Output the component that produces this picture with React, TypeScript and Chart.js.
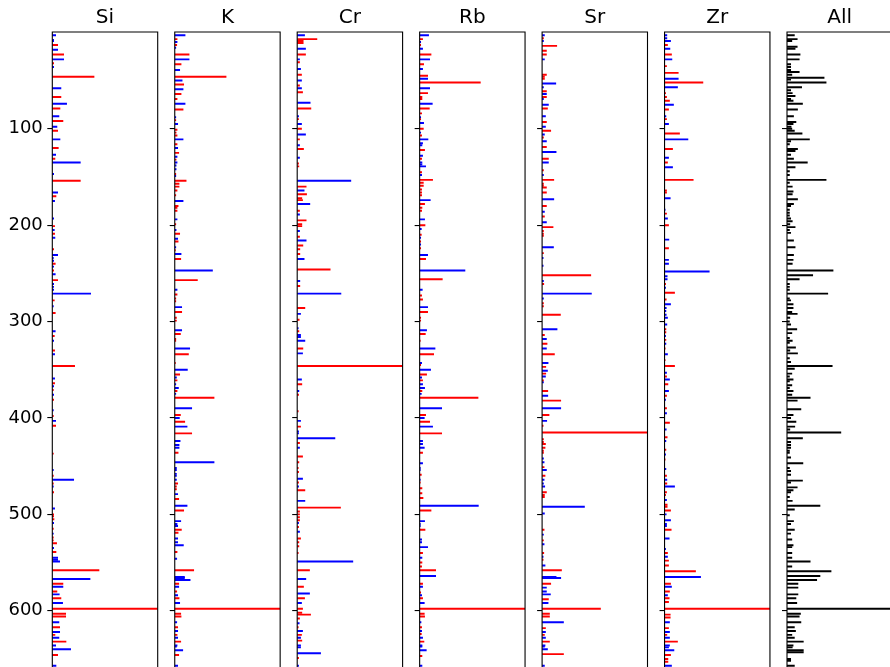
import React, { useEffect, useRef } from 'react';
import { Chart, registerables } from 'chart.js';

Chart.register(...registerables);

// Each bar: [sample index, relative intensity in % of the element's maximum]
type Bar = [number, number];

const ELEMENTS = ['Si', 'K', 'Cr', 'Rb', 'Sr', 'Zr'];
const Y_TICKS = [100, 200, 300, 400, 500, 600];

// Silicon
const siA: Bar[] = [
  [13, 5.1], [23, 10.8], [32, 1.3], [46, 39.6], [67, 8.2], [79, 7.3], [92, 10.1], [102, 5.1], [120, 5.7], [131, 2.5],
  [154, 26.6], [170, 3.5], [201, 2.2], [209, 2.2], [225, 1.3], [240, 2.8], [247, 1.3], [257, 5.1], [278, 1.9], [291, 2.8],
  [315, 1.9], [330, 2.2], [346, 21.2], [364, 2.2], [371, 1], [381, 1.3], [398, 1], [408, 3.2], [437, 1], [460, 1],
  [468, 1], [477, 1.3], [500, 1.3], [502, 1.3], [505, 1.6], [515, 1], [524, 1], [527, 1], [530, 4.1], [539, 3.5],
  [558, 44.3], [572, 10.1], [580, 4.4], [587, 8.2], [598, 100], [603, 12.7], [606, 12.7], [617, 7], [625, 2.5], [632, 13],
  [646, 5.1],
];
const siB: Bar[] = [
  [3, 3.2], [8, 1.3], [9, 1.3], [18, 5.1], [28, 10.8], [36, 1.3], [58, 8.2], [74, 13.6], [87, 6.3], [98, 4.4],
  [111, 7.3], [127, 3.2], [135, 26.6], [147, 1.3], [166, 5.1], [175, 2.2], [193, 1.3], [205, 1.9], [213, 2.5], [231, 5.1],
  [234, 1], [237, 1.3], [243, 1.3], [251, 2.8], [261, 1.3], [264, 1.3], [267, 1.3], [271, 36.4], [284, 1], [310, 2.8],
  [320, 1.3], [334, 2.2], [359, 2.2], [367, 1.3], [376, 1.3], [392, 1], [403, 3.2], [454, 1], [464, 20.3], [471, 1],
  [494, 2.2], [509, 1.3], [520, 1], [535, 1.3], [545, 5.1], [547, 5.1], [549, 7], [567, 35.8], [575, 10.1], [583, 6.6],
  [592, 9.8], [612, 6.3], [622, 7], [628, 6.3], [636, 3.2], [640, 17.4], [657, 3.5],
];

// Potassium
const kA: Bar[] = [
  [7, 2.2], [13, 1.9], [23, 13.6], [33, 6], [46, 48.7], [54, 8.5], [64, 6], [69, 2.2], [80, 7.9], [91, 1],
  [101, 2.2], [104, 1.3], [107, 2.2], [116, 2.2], [125, 3.8], [132, 1.3], [147, 1], [154, 10.8], [157, 4.1], [160, 4.1],
  [164, 2.2], [169, 1], [180, 3.2], [182, 2.2], [185, 2.2], [199, 1], [209, 4.7], [217, 3.2], [226, 0.6], [235, 5.7],
  [257, 21.5], [272, 2.2], [276, 1], [279, 1], [290, 6.6], [296, 1.6], [299, 1.6], [313, 5.4], [318, 1], [320, 1],
  [334, 13], [343, 0.6], [355, 4.7], [361, 2.2], [372, 2.2], [379, 37.3], [397, 5.4], [404, 9.5], [416, 16.1], [436, 3.2],
  [468, 2.8], [471, 1.6], [474, 1.6], [484, 3.8], [496, 8.5], [516, 6.3], [519, 3.2], [539, 2.2], [558, 18], [572, 3.8],
  [580, 1.9], [587, 4.1], [598, 100], [603, 5.7], [606, 6], [617, 2.8], [625, 2.2], [632, 5.7], [646, 3.8],
];
const kB: Bar[] = [
  [3, 9.8], [10, 2.2], [16, 1], [28, 13.6], [39, 4.7], [50, 7], [59, 7.9], [74, 9.8], [88, 1], [95, 2.8],
  [111, 7.9], [120, 2.8], [129, 2.2], [135, 2.2], [138, 1.3], [142, 1.3], [149, 1], [175, 7.9], [194, 2.2], [205, 1.3],
  [214, 2.8], [223, 1], [230, 6], [247, 35.8], [267, 2.2], [285, 6.6], [309, 6.6], [328, 14.2], [350, 12], [358, 1.6],
  [365, 1], [369, 3.5], [375, 1], [390, 16.1], [400, 4.4], [409, 11.7], [424, 5.1], [428, 4.1], [431, 4.1], [446, 37.3],
  [452, 1.6], [454, 1.6], [458, 1.6], [460, 1.6], [464, 1.6], [479, 2.8], [491, 11.7], [507, 5.7], [510, 2.2], [512, 2.8],
  [525, 2.8], [529, 2.8], [532, 8.2], [546, 1.9], [565, 9.2], [566, 9.2], [568, 14.6], [575, 3.8], [584, 2.8], [592, 4.7],
  [612, 1.9], [621, 2.8], [628, 2.8], [636, 2.2], [637, 1.6], [641, 7.6], [657, 2.8],
];

// Chromium
const crA: Bar[] = [
  [7, 18.7], [9, 5.7], [11, 5.7], [23, 7.9], [31, 2.2], [44, 4.1], [55, 2.2], [62, 5.1], [79, 13], [90, 1.3],
  [100, 4.1], [111, 2.2], [121, 6], [136, 1.3], [139, 1.6], [160, 8.5], [168, 8.9], [172, 4.4], [174, 5.1], [185, 2.2],
  [195, 8.5], [199, 4.4], [201, 4.4], [212, 2.2], [221, 5.4], [225, 2.5], [230, 2.5], [246, 31.3], [263, 2.5], [286, 7.3],
  [298, 1.9], [310, 1.6], [328, 5.4], [346, 100], [365, 4.4], [376, 1.3], [393, 1], [409, 3.2], [426, 2.2], [440, 5.1],
  [446, 1.6], [452, 1], [456, 1.3], [467, 1.3], [475, 7.3], [493, 41.1], [497, 2.2], [500, 2.2], [503, 2.2], [506, 2.2],
  [513, 1.3], [525, 3.2], [529, 1.6], [533, 1.6], [540, 1], [558, 11.7], [575, 6], [587, 7], [598, 5.1], [602, 4.4],
  [604, 12.7], [608, 2.2], [617, 1], [625, 4.1], [631, 4.4], [649, 1.3],
];
const crB: Bar[] = [
  [3, 7], [17, 7.9], [28, 2.2], [38, 3.2], [50, 4.1], [58, 4.1], [73, 12.3], [87, 1.3], [95, 4.1], [106, 7.9],
  [117, 2.2], [130, 2.2], [154, 50.9], [164, 6.6], [178, 12], [189, 2.2], [206, 2.2], [216, 8.5], [235, 6.6], [258, 2.5],
  [271, 41.5], [292, 3.2], [307, 1], [314, 3.2], [316, 3.2], [320, 7.3], [333, 5.1], [360, 4.1], [372, 1.6], [403, 3.2],
  [414, 1.3], [416, 1.3], [421, 35.8], [431, 2.2], [463, 5.1], [471, 1.3], [486, 7.3], [509, 1.3], [518, 2.2], [549, 52.8],
  [567, 8.2], [582, 11.7], [592, 4.1], [613, 1.9], [621, 5.1], [628, 3.2], [636, 3.2], [638, 3.2], [644, 22.2], [657, 1.3],
];

// Rubidium
const rbA: Bar[] = [
  [7, 2.8], [13, 1], [23, 10.8], [33, 3.8], [45, 7.6], [52, 57.6], [63, 7.6], [67, 2.2], [69, 2.2], [79, 9.2],
  [84, 1.9], [90, 1], [100, 3.5], [107, 1.9], [122, 4.7], [131, 1.9], [145, 1.9], [153, 12.3], [156, 3.5], [159, 3.5],
  [163, 1.9], [166, 1.9], [169, 1.9], [178, 4.7], [182, 2.2], [185, 1.9], [200, 5.1], [210, 1.6], [217, 1], [224, 1],
  [235, 5.7], [256, 21.5], [273, 1.9], [277, 2.8], [290, 7.6], [296, 1], [299, 1], [313, 5.4], [320, 0.6], [334, 13.3],
  [345, 1], [355, 6.6], [361, 2.8], [372, 2.2], [379, 55.4], [397, 5.7], [404, 9.5], [416, 20.9], [436, 2.8], [459, 1.6],
  [467, 0.6], [473, 2.2], [478, 2.2], [483, 3.2], [496, 10.8], [516, 5.1], [540, 2.8], [550, 2.2], [554, 1.9], [558, 15.2],
  [572, 2.8], [581, 1], [587, 2.8], [598, 100], [603, 4.4], [606, 4.7], [617, 1.9], [624, 1.6], [632, 4.1], [647, 2.2],
];
const rbB: Bar[] = [
  [3, 8.5], [10, 1], [17, 2.8], [28, 9.5], [38, 2.8], [48, 7.6], [58, 9.5], [74, 12], [88, 1], [94, 3.8],
  [104, 1], [111, 7.9], [115, 2.8], [117, 2.2], [128, 2.8], [135, 2.2], [137, 2.2], [139, 5.7], [148, 1.9], [174, 10.1],
  [194, 4.7], [204, 1.6], [213, 1], [220, 1], [231, 7.6], [247, 43], [267, 2.5], [285, 7.6], [309, 6.6], [328, 14.6],
  [343, 1.9], [350, 10.4], [358, 1.9], [365, 2.8], [369, 4.7], [375, 1.6], [390, 20.9], [400, 4.4], [409, 12.3], [424, 2.8],
  [427, 2.8], [431, 4.4], [447, 2.8], [452, 0.6], [454, 0.6], [464, 0.6], [491, 55.7], [507, 4.7], [510, 0.6], [512, 0.6],
  [526, 1.9], [529, 1.9], [534, 7.6], [545, 2.2], [564, 15.2], [575, 2.8], [584, 1.9], [592, 4.4], [612, 1.3], [621, 1.9],
  [628, 2.8], [636, 2.2], [637, 2.2], [641, 6.3], [657, 2.2],
];

// Strontium
const srA: Bar[] = [
  [6, 1.3], [14, 13.9], [19, 4.1], [23, 4.1], [44, 4.1], [46, 2.2], [48, 2.2], [61, 4.1], [67, 4.1], [79, 5.1],
  [93, 4.1], [102, 8.2], [109, 1.3], [119, 4.1], [131, 6], [143, 1.3], [153, 11.1], [157, 1.3], [159, 1.3], [161, 4.1],
  [166, 4.1], [180, 4.1], [191, 2.2], [202, 10.4], [206, 1.3], [209, 1.3], [211, 1.3], [229, 1.3], [252, 46.2], [261, 1.6],
  [281, 1.3], [284, 1.3], [293, 17.4], [314, 2.2], [323, 4.7], [334, 11.7], [347, 3.5], [354, 3.5], [361, 1.3], [372, 5.4],
  [382, 17.7], [397, 6.6], [408, 1], [415, 100], [422, 1.3], [425, 1.3], [427, 3.2], [431, 2.8], [434, 1.3], [436, 1.3],
  [451, 1.9], [460, 2.8], [477, 4.1], [480, 2.2], [482, 2.2], [516, 1.9], [527, 1.3], [540, 1.6], [547, 1], [558, 18.4],
  [572, 8.2], [588, 6], [598, 55.4], [603, 7], [606, 7], [618, 3.2], [625, 2.2], [632, 7], [645, 20.3],
];
const srB: Bar[] = [
  [3, 2.2], [9, 1.3], [28, 2.2], [53, 13], [57, 1.3], [64, 4.1], [69, 1.3], [75, 6], [87, 3.2], [98, 3.2],
  [106, 2.2], [113, 4.1], [124, 13.3], [135, 6], [148, 1.3], [173, 11.1], [186, 2.2], [197, 4.1], [223, 10.8], [234, 1],
  [242, 1], [258, 1.3], [271, 46.8], [276, 1.3], [308, 14.2], [318, 4.1], [328, 4.1], [343, 5.7], [351, 5.1], [357, 3.2],
  [363, 1.3], [377, 5.4], [390, 17.7], [403, 4.4], [442, 1.3], [446, 1.9], [454, 4.1], [464, 1.9], [468, 1.3], [471, 2.5],
  [492, 40.2], [499, 2.2], [521, 1.3], [531, 1.9], [544, 1], [553, 2.8], [565, 13.3], [566, 17.7], [576, 4.1], [580, 4.1],
  [583, 7.9], [592, 5.7], [612, 20.3], [622, 3.2], [628, 3.2], [636, 2.8], [637, 2.2], [640, 5.1], [657, 2.2],
];

// Zirconium
const zrA: Bar[] = [
  [13, 2.8], [23, 6.6], [35, 1.9], [42, 13], [52, 36.4], [63, 1], [67, 1.9], [71, 4.7], [80, 3.8], [90, 1.9],
  [105, 14.2], [121, 7.6], [135, 2.8], [153, 27.2], [164, 1.9], [166, 1.9], [188, 1.9], [200, 3.8], [224, 3.8], [261, 1],
  [270, 9.5], [277, 1.6], [308, 1.3], [311, 1.3], [319, 1.3], [328, 0.6], [340, 0.6], [346, 9.5], [357, 1.9], [365, 3.2],
  [377, 1.9], [390, 1.9], [405, 4.7], [420, 2.5], [433, 1.3], [443, 0.6], [460, 1.9], [468, 2.2], [477, 1.9], [480, 1],
  [490, 2.5], [492, 2.5], [496, 5.7], [516, 6.3], [540, 2.8], [548, 3.8], [553, 3.8], [559, 29.4], [572, 5.7], [580, 4.7],
  [587, 4.4], [591, 3.8], [598, 100], [604, 5.4], [607, 5.4], [618, 3.8], [625, 2.2], [632, 12.3], [646, 5.7], [650, 3.2],
  [653, 3.2],
];
const zrB: Bar[] = [
  [3, 2.2], [6, 2.2], [9, 5.7], [17, 5.1], [28, 7], [48, 13], [57, 12.3], [75, 8.5], [87, 1.3], [95, 3.8],
  [111, 22.2], [130, 3.8], [140, 7.6], [172, 5.4], [184, 0.6], [193, 2.8], [215, 4.1], [236, 3.8], [240, 3.8], [248, 42.4],
  [253, 2.5], [256, 2.5], [265, 1], [282, 5.7], [286, 1.6], [289, 1.3], [293, 1.6], [296, 2.8], [303, 2.2], [315, 1],
  [323, 1.3], [334, 2.8], [353, 1.9], [360, 4.7], [372, 3.8], [381, 1], [395, 1.9], [412, 1.6], [424, 1.3], [438, 1],
  [453, 1.3], [464, 2.2], [471, 9.5], [485, 1.9], [500, 1.6], [506, 5.7], [510, 1.9], [512, 1.9], [525, 4.4], [536, 1],
  [544, 2.8], [565, 34.2], [575, 6.6], [584, 2.8], [612, 4.7], [622, 4.7], [628, 4.7], [636, 4.7], [638, 3.8], [641, 8.9],
  [657, 6.6],
];

// Combined score over all elements
const allBars: Bar[] = [
  [3, 7], [7, 9.7], [9, 4.6], [15, 9.7], [17, 7.7], [23, 12.4], [28, 11.6], [33, 3.5], [36, 3.5], [39, 3.5],
  [41, 11.6], [44, 4.6], [47, 35.2], [49, 3.5], [52, 37.1], [57, 13.9], [60, 3.5], [63, 5], [66, 7.7], [69, 3.5],
  [71, 5.8], [74, 14.7], [80, 10], [87, 6.2], [93, 8.5], [95, 5.8], [98, 3.9], [100, 4.6], [102, 7], [105, 14.3],
  [111, 21.3], [113, 3.5], [116, 2.3], [121, 10], [123, 7.7], [127, 3.5], [131, 6.2], [135, 19.3], [140, 7.7], [144, 2.3],
  [148, 2.3], [153, 37.1], [156, 2.3], [160, 5], [165, 5.8], [168, 5], [173, 10], [178, 6.2], [180, 3.5], [184, 2.3],
  [187, 2.3], [190, 2.3], [193, 3.5], [196, 5], [199, 2.7], [202, 7.7], [205, 2.3], [208, 3.5], [216, 6.2], [223, 7.7],
  [231, 6.2], [236, 5.8], [240, 5], [247, 43.7], [252, 24.4], [256, 11.6], [261, 2.3], [264, 2.3], [267, 2.3], [271, 38.7],
  [276, 2.3], [278, 3.5], [282, 5.8], [286, 5.8], [290, 4.6], [292, 9.7], [296, 2.7], [300, 2.3], [303, 3.5], [308, 9.3],
  [312, 4.6], [317, 2.3], [320, 5], [322, 2.3], [327, 8.1], [330, 2.7], [333, 10], [338, 2.3], [342, 3.5], [346, 42.9],
  [349, 7], [354, 4.6], [357, 2.3], [360, 5.8], [362, 2.3], [366, 4.6], [369, 2.3], [372, 5.8], [376, 4.6], [379, 22],
  [382, 9.7], [391, 13.2], [397, 5.8], [400, 3.5], [404, 8.5], [409, 7.4], [412, 2.7], [415, 51.1], [421, 14.7], [425, 3.5],
  [428, 3.5], [431, 3.5], [434, 2.3], [436, 2.3], [441, 3.5], [447, 15.1], [452, 2.3], [455, 3.5], [459, 3.5], [465, 14.7],
  [467, 3.5], [472, 9.7], [475, 5.8], [477, 3.5], [482, 2.3], [486, 5], [491, 31.3], [495, 7], [501, 2.3], [507, 6.2],
  [510, 3.5], [516, 7], [520, 3.5], [526, 4.6], [532, 5.8], [534, 4.6], [540, 4.6], [545, 4.6], [549, 22], [554, 4.6],
  [559, 41.8], [564, 31.3], [568, 28.2], [572, 10.4], [576, 10.4], [583, 10.4], [587, 8.5], [592, 9.3], [598, 100], [603, 12.8],
  [606, 11.6], [612, 13.2], [617, 7], [621, 8.1], [625, 4.6], [628, 7], [632, 15.5], [636, 5.8], [638, 5], [641, 15.5],
  [643, 15.5], [650, 3.5], [652, 3.5], [657, 7],
];

const ELEMENT_GROUPS: [Bar[], Bar[]][] = [
  [siA, siB], [kA, kB], [crA, crB], [rbA, rbB], [srA, srB], [zrA, zrB],
];

// Layout of the small-multiple panels (pixels)
const FIRST_LEFT = 52.3;
const PITCH = 122.45;
const PLOT_W = 105.4;
const CANVAS_H = 730;
const BOTTOM_PAD = 24;
const BAR_T = 1.3;
const FONT = "'DejaVu Sans', sans-serif";

interface Series {
  label: string;
  bars: Bar[];
  color: string;
}

const framePlugin = {
  id: 'frame',
  afterDatasetsDraw(chart: any) {
    const { ctx, chartArea } = chart;
    const { left, top, right, bottom } = chartArea;
    ctx.save();
    ctx.strokeStyle = '#000';
    ctx.lineWidth = 1.1;
    ctx.beginPath();
    ctx.moveTo(left, bottom);
    ctx.lineTo(left, top);
    ctx.lineTo(right, top);
    ctx.lineTo(right, bottom);
    ctx.stroke();
    ctx.restore();
  },
};

function Panel({ title, series, index }: { title: string; series: Series[]; index: number }) {
  const ref = useRef<HTMLCanvasElement>(null);
  const plotLeft = FIRST_LEFT + index * PITCH;
  const canvasLeft = index === 0 ? 0 : Math.floor(plotLeft - 18);
  const axisW = plotLeft - canvasLeft;
  const canvasW = Math.ceil(axisW + PLOT_W + 2);
  const padRight = canvasW - axisW - PLOT_W;

  useEffect(() => {
    if (!ref.current) return;
    const chart = new Chart(ref.current, {
      type: 'bar',
      data: {
        datasets: series.map((s) => ({
          label: s.label,
          data: s.bars.map(([row, v]) => ({ x: v, y: row })),
          backgroundColor: s.color,
          borderWidth: 0,
          barThickness: BAR_T,
          grouped: false,
        })) as any,
      },
      options: {
        animation: false,
        responsive: false,
        devicePixelRatio: 1,
        indexAxis: 'y',
        layout: { padding: { left: 0, right: padRight, top: 0, bottom: BOTTOM_PAD } },
        plugins: {
          legend: { display: false },
          tooltip: { enabled: false },
          title: {
            display: true,
            text: title,
            color: '#000',
            font: { family: FONT, size: 20, weight: 'normal' },
            padding: { top: 6, bottom: 2 },
            fullSize: false,
          },
        },
        scales: {
          x: { type: 'linear', display: false, min: 0, max: 100 },
          y: {
            type: 'linear',
            reverse: true,
            offset: false,
            min: -0.4,
            max: 698.8,
            afterFit: (scale: any) => {
              scale.width = axisW;
            },
            afterBuildTicks: (scale: any) => {
              scale.ticks = Y_TICKS.map((v) => ({ value: v }));
            },
            grid: {
              offset: false,
              drawOnChartArea: false,
              drawTicks: true,
              tickLength: 5,
              color: '#000',
              lineWidth: 1.1,
            },
            border: { display: false },
            ticks: {
              color: '#000',
              font: { family: FONT, size: 18 },
              padding: 4.5,
              callback: (v: any) => (index === 0 ? String(v) : ''),
            },
          },
        },
      } as any,
      plugins: [framePlugin],
    });
    return () => chart.destroy();
  }, []);

  return (
    <canvas
      ref={ref}
      width={canvasW}
      height={CANVAS_H}
      style={{ position: 'absolute', left: canvasLeft, top: 0, width: canvasW, height: CANVAS_H }}
    />
  );
}

export default function App() {
  const panels: { title: string; series: Series[] }[] = ELEMENTS.map((el, i) => ({
    title: el,
    series: [
      { label: 'A', bars: ELEMENT_GROUPS[i][0], color: '#ff0000' },
      { label: 'B', bars: ELEMENT_GROUPS[i][1], color: '#0000ff' },
    ],
  }));
  panels.push({ title: 'All', series: [{ label: 'All', bars: allBars, color: '#000000' }] });

  return (
    <div
      style={{
        position: 'absolute',
        left: 0,
        top: 0,
        width: 890,
        height: 667,
        overflow: 'hidden',
        background: '#fff',
      }}
    >
      {panels.map((p, i) => (
        <Panel key={p.title} title={p.title} series={p.series} index={i} />
      ))}
    </div>
  );
}
